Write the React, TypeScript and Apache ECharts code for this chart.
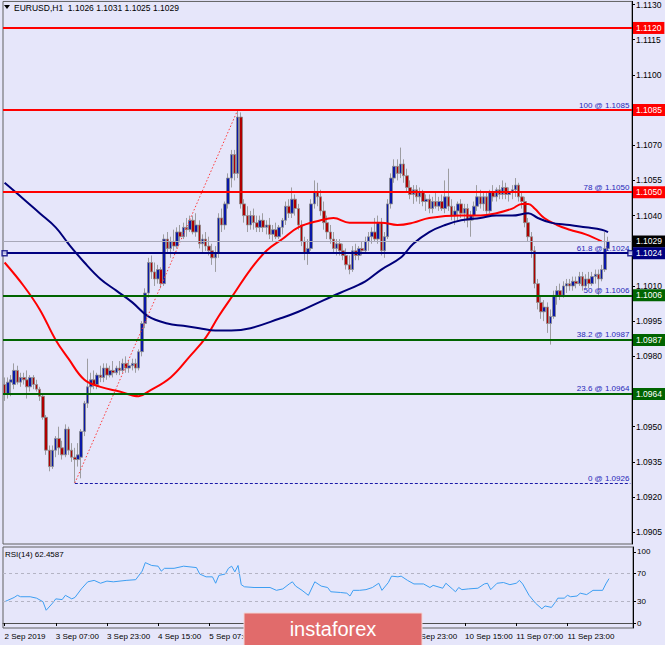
import React, { useEffect, useRef } from "react";
import * as echarts from "echarts";

// ---------- DATA ----------
const timeLabels = [
  "2 Sep 2019", "3 Sep 07:00", "3 Sep 23:00", "4 Sep 15:00", "5 Sep 07:00", "5 Sep 23:00",
  "6 Sep 15:00", "9 Sep 07:00", "9 Sep 23:00", "10 Sep 15:00", "11 Sep 07:00", "11 Sep 23:00",
];
const labelsUnderLogo = ["5 Sep 23:00", "6 Sep 15:00", "9 Sep 07:00"]; // fully covered by the watermark
const barsPerLabel = 16;
const emptySlots = 7; // chart shift on the right

// [open, high, low, close]
const candles: number[][] = [
  [1.0968, 1.0971, 1.0961, 1.0964], [1.0964, 1.0971, 1.0962, 1.0969], [1.0969, 1.0972, 1.0963, 1.0970], [1.0968, 1.0977, 1.0966, 1.0974],
  [1.0974, 1.0976, 1.0968, 1.0969], [1.0969, 1.0973, 1.0967, 1.0971], [1.0971, 1.0973, 1.0968, 1.0970], [1.0970, 1.0974, 1.0962, 1.0967],
  [1.0967, 1.0972, 1.0965, 1.0971], [1.0971, 1.0972, 1.0966, 1.0968], [1.0968, 1.0970, 1.0965, 1.0966], [1.0966, 1.0967, 1.0961, 1.0963],
  [1.0963, 1.0964, 1.0953, 1.0954], [1.0954, 1.0955, 1.0938, 1.0940], [1.0940, 1.0942, 1.0931, 1.0933], [1.0933, 1.0942, 1.0932, 1.0940],
  [1.0940, 1.0946, 1.0937, 1.0945], [1.0945, 1.0950, 1.0938, 1.0941], [1.0941, 1.0944, 1.0936, 1.0938], [1.0938, 1.0951, 1.0937, 1.0949],
  [1.0949, 1.0950, 1.0938, 1.0940], [1.0940, 1.0943, 1.0935, 1.0937], [1.0937, 1.0941, 1.0926, 1.0936], [1.0936, 1.0943, 1.0933, 1.0938],
  [1.0937, 1.0949, 1.0928, 1.0948], [1.0948, 1.0961, 1.0946, 1.0960], [1.0960, 1.0979, 1.0958, 1.0967], [1.0967, 1.0973, 1.0964, 1.0970],
  [1.0970, 1.0974, 1.0966, 1.0968], [1.0968, 1.0973, 1.0966, 1.0972], [1.0972, 1.0976, 1.0969, 1.0971], [1.0971, 1.0977, 1.0969, 1.0975],
  [1.0975, 1.0977, 1.0970, 1.0972], [1.0972, 1.0976, 1.0971, 1.0974], [1.0974, 1.0978, 1.0971, 1.0973], [1.0973, 1.0976, 1.0972, 1.0975],
  [1.0975, 1.0978, 1.0972, 1.0974], [1.0974, 1.0979, 1.0973, 1.0977], [1.0977, 1.0980, 1.0973, 1.0975], [1.0975, 1.0978, 1.0973, 1.0976],
  [1.0976, 1.0979, 1.0974, 1.0977], [1.0977, 1.0979, 1.0973, 1.0975], [1.0975, 1.0983, 1.0974, 1.0982], [1.0982, 1.0995, 1.0980, 1.0994],
  [1.0994, 1.1009, 1.0992, 1.1007], [1.1007, 1.1022, 1.1005, 1.1020], [1.1020, 1.1023, 1.1013, 1.1016], [1.1016, 1.1020, 1.1010, 1.1013],
  [1.1013, 1.1019, 1.1011, 1.1017], [1.1017, 1.1018, 1.1009, 1.1011], [1.1011, 1.1032, 1.1010, 1.1030], [1.1030, 1.1033, 1.1024, 1.1026],
  [1.1026, 1.1031, 1.1022, 1.1029], [1.1029, 1.1034, 1.1025, 1.1027], [1.1027, 1.1035, 1.1026, 1.1033], [1.1033, 1.1036, 1.1029, 1.1031],
  [1.1031, 1.1037, 1.1030, 1.1035], [1.1035, 1.1039, 1.1031, 1.1034], [1.1034, 1.1040, 1.1033, 1.1038], [1.1038, 1.1040, 1.1032, 1.1033],
  [1.1033, 1.1041, 1.1031, 1.1036], [1.1036, 1.1038, 1.1026, 1.1028], [1.1028, 1.1032, 1.1024, 1.1030], [1.1030, 1.1033, 1.1025, 1.1027],
  [1.1027, 1.1031, 1.1023, 1.1025], [1.1025, 1.1028, 1.1019, 1.1022], [1.1022, 1.1027, 1.1016, 1.1024], [1.1024, 1.1041, 1.1022, 1.1039],
  [1.1039, 1.1043, 1.1033, 1.1036], [1.1036, 1.1046, 1.1034, 1.1045], [1.1045, 1.1058, 1.1043, 1.1056], [1.1056, 1.1068, 1.1052, 1.1066],
  [1.1066, 1.1068, 1.1055, 1.1058], [1.1058, 1.1085, 1.1056, 1.1082], [1.1082, 1.1084, 1.1043, 1.1045], [1.1045, 1.1047, 1.1037, 1.1040],
  [1.1040, 1.1044, 1.1033, 1.1036], [1.1036, 1.1042, 1.1034, 1.1040], [1.1040, 1.1043, 1.1034, 1.1037], [1.1037, 1.1040, 1.1033, 1.1035],
  [1.1035, 1.1040, 1.1033, 1.1038], [1.1038, 1.1041, 1.1033, 1.1035], [1.1035, 1.1038, 1.1032, 1.1036], [1.1036, 1.1039, 1.1030, 1.1032],
  [1.1032, 1.1036, 1.1029, 1.1034], [1.1034, 1.1037, 1.1030, 1.1031], [1.1031, 1.1036, 1.1030, 1.1035], [1.1035, 1.1039, 1.1032, 1.1038],
  [1.1038, 1.1046, 1.1036, 1.1044], [1.1044, 1.1047, 1.1039, 1.1041], [1.1041, 1.1052, 1.1039, 1.1047], [1.1047, 1.1049, 1.1040, 1.1043],
  [1.1043, 1.1045, 1.1034, 1.1036], [1.1036, 1.1038, 1.1027, 1.1029], [1.1029, 1.1031, 1.1021, 1.1024], [1.1024, 1.1030, 1.1019, 1.1026],
  [1.1026, 1.1047, 1.1025, 1.1045], [1.1045, 1.1055, 1.1043, 1.1050], [1.1050, 1.1054, 1.1044, 1.1048], [1.1048, 1.1051, 1.1040, 1.1042],
  [1.1042, 1.1046, 1.1034, 1.1037], [1.1037, 1.1040, 1.1030, 1.1033], [1.1033, 1.1036, 1.1028, 1.1030], [1.1030, 1.1033, 1.1024, 1.1026],
  [1.1026, 1.1030, 1.1023, 1.1028], [1.1028, 1.1030, 1.1023, 1.1025], [1.1025, 1.1028, 1.1021, 1.1023], [1.1023, 1.1026, 1.1017, 1.1019],
  [1.1019, 1.1023, 1.1015, 1.1017], [1.1017, 1.1027, 1.1016, 1.1025], [1.1025, 1.1028, 1.1021, 1.1023], [1.1023, 1.1027, 1.1021, 1.1026],
  [1.1026, 1.1029, 1.1023, 1.1025], [1.1025, 1.1031, 1.1024, 1.1029], [1.1029, 1.1033, 1.1025, 1.1031], [1.1031, 1.1035, 1.1028, 1.1033],
  [1.1033, 1.1039, 1.1029, 1.1030], [1.1030, 1.1040, 1.1028, 1.1037], [1.1037, 1.1039, 1.1023, 1.1025], [1.1025, 1.1033, 1.1022, 1.1031],
  [1.1031, 1.1047, 1.1030, 1.1045], [1.1045, 1.1058, 1.1043, 1.1056], [1.1056, 1.1064, 1.1054, 1.1061], [1.1061, 1.1064, 1.1055, 1.1058],
  [1.1058, 1.1069, 1.1056, 1.1062], [1.1062, 1.1064, 1.1054, 1.1057], [1.1057, 1.1060, 1.1050, 1.1052], [1.1052, 1.1055, 1.1047, 1.1049],
  [1.1049, 1.1053, 1.1045, 1.1051], [1.1051, 1.1053, 1.1046, 1.1048], [1.1048, 1.1052, 1.1045, 1.1050], [1.1050, 1.1051, 1.1044, 1.1046],
  [1.1046, 1.1049, 1.1042, 1.1047], [1.1047, 1.1049, 1.1041, 1.1043], [1.1043, 1.1048, 1.1041, 1.1046], [1.1046, 1.1050, 1.1043, 1.1044],
  [1.1044, 1.1048, 1.1042, 1.1046], [1.1046, 1.1049, 1.1042, 1.1043], [1.1043, 1.1055, 1.1041, 1.1048], [1.1048, 1.1060, 1.1042, 1.1044],
  [1.1044, 1.1047, 1.1038, 1.1040], [1.1040, 1.1044, 1.1036, 1.1042], [1.1042, 1.1046, 1.1038, 1.1045], [1.1045, 1.1047, 1.1039, 1.1041],
  [1.1041, 1.1045, 1.1037, 1.1043], [1.1043, 1.1045, 1.1035, 1.1038], [1.1038, 1.1042, 1.1031, 1.1040], [1.1040, 1.1046, 1.1038, 1.1044],
  [1.1044, 1.1053, 1.1042, 1.1048], [1.1048, 1.1051, 1.1043, 1.1045], [1.1045, 1.1050, 1.1042, 1.1048], [1.1048, 1.1050, 1.1040, 1.1042],
  [1.1042, 1.1051, 1.1041, 1.1050], [1.1050, 1.1053, 1.1046, 1.1048], [1.1048, 1.1052, 1.1046, 1.1051], [1.1051, 1.1053, 1.1047, 1.1049],
  [1.1049, 1.1055, 1.1047, 1.1052], [1.1052, 1.1054, 1.1047, 1.1049], [1.1049, 1.1052, 1.1046, 1.1050], [1.1050, 1.1053, 1.1047, 1.1051],
  [1.1051, 1.1056, 1.1048, 1.1053], [1.1053, 1.1054, 1.1046, 1.1048], [1.1048, 1.1050, 1.1043, 1.1046], [1.1046, 1.1048, 1.1035, 1.1037],
  [1.1037, 1.1039, 1.1029, 1.1031], [1.1031, 1.1033, 1.1022, 1.1025], [1.1025, 1.1027, 1.1009, 1.1011], [1.1011, 1.1013, 1.1000, 1.1003],
  [1.1003, 1.1006, 1.0996, 1.0999], [1.0999, 1.1004, 1.0995, 1.1001], [1.1001, 1.1003, 1.0990, 1.0994], [1.0994, 1.1000, 1.0985, 1.0997],
  [1.0997, 1.1008, 1.0996, 1.1006], [1.1006, 1.1010, 1.1002, 1.1008], [1.1008, 1.1011, 1.1004, 1.1006], [1.1006, 1.1012, 1.1005, 1.1010],
  [1.1010, 1.1013, 1.1007, 1.1011], [1.1011, 1.1013, 1.1008, 1.1010], [1.1010, 1.1014, 1.1008, 1.1012], [1.1012, 1.1014, 1.1009, 1.1011],
  [1.1011, 1.1016, 1.1010, 1.1014], [1.1014, 1.1016, 1.1008, 1.1010], [1.1010, 1.1015, 1.1009, 1.1013], [1.1013, 1.1016, 1.1009, 1.1011],
  [1.1011, 1.1016, 1.1010, 1.1014], [1.1014, 1.1017, 1.1011, 1.1015], [1.1015, 1.1017, 1.1006, 1.1013], [1.1013, 1.1019, 1.1012, 1.1017],
  [1.1017, 1.1033, 1.1016, 1.1026], [1.1026, 1.1031, 1.1025, 1.1029],
];

// moving averages read at sample bars: [barIndex, value]
const maRed: number[][] = [
  [0, 1.1020], [6, 1.1010], [11, 1.1000], [16, 1.0987], [20, 1.0979], [25, 1.0970], [30, 1.0967], [36, 1.0965],
  [42, 1.0963], [45, 1.0965], [52, 1.0971], [58, 1.0980], [63, 1.0988], [67, 1.0997], [72, 1.1007], [77, 1.1017],
  [82, 1.1025], [87, 1.1030], [92, 1.1035], [99, 1.1038], [103, 1.1039], [108, 1.1037], [113, 1.1037], [118, 1.1037],
  [123, 1.1036], [128, 1.1037], [133, 1.1039], [143, 1.1040], [149, 1.1040], [154, 1.1041], [159, 1.1043], [162, 1.1045],
  [164, 1.1045], [166, 1.1043], [169, 1.1039], [173, 1.1036], [177, 1.1034], [182, 1.1032], [187, 1.1029],
];
const maNavy: number[][] = [
  [0, 1.1054], [6, 1.1047], [11, 1.1041], [16, 1.1035], [20, 1.1028], [25, 1.1020], [30, 1.1013], [35, 1.1008],
  [40, 1.1003], [45, 1.0997], [51, 1.0994], [56, 1.0993], [61, 1.0992], [66, 1.0991], [71, 1.0991], [77, 1.0992],
  [86, 1.0996], [92, 1.0999], [100, 1.1004], [105, 1.1007], [113, 1.1012], [118, 1.1017], [124, 1.1022], [128, 1.1028],
  [133, 1.1033], [138, 1.1036], [143, 1.1038], [149, 1.1039], [154, 1.1040], [159, 1.1040], [164, 1.1041], [167, 1.1039],
  [171, 1.1037], [177, 1.1036], [182, 1.1035], [187, 1.1034], [189, 1.1033],
];
// RSI(14) read at sample bars: [barIndex, value]
const rsi: number[][] = [
  [0, 30], [1, 32], [3, 36], [4, 39], [5, 37], [8, 37], [10, 35], [12, 30], [13, 18], [15, 28], [16, 34], [18, 33],
  [19, 39], [21, 34], [22, 36], [24, 48], [26, 58], [28, 60], [30, 56], [32, 59], [34, 58], [38, 60], [41, 61], [43, 73],
  [44, 85], [46, 81], [48, 80], [49, 73], [50, 77], [53, 77], [56, 80], [60, 78], [61, 69], [63, 65], [65, 65], [66, 56],
  [67, 67], [69, 69], [70, 77], [71, 80], [72, 72], [73, 81], [74, 54], [75, 51], [78, 50], [83, 50], [85, 46], [87, 48],
  [89, 55], [90, 58], [91, 52], [93, 46], [95, 39], [97, 58], [99, 52], [101, 50], [102, 44], [105, 43], [107, 42], [108, 38],
  [109, 46], [111, 46], [113, 47], [115, 50], [117, 56], [118, 46], [120, 57], [121, 66], [123, 65], [124, 66], [126, 60],
  [128, 55], [131, 55], [133, 50], [134, 53], [137, 49], [138, 56], [140, 48], [141, 44], [142, 50], [143, 47], [145, 48],
  [148, 49], [150, 55], [151, 56], [152, 47], [154, 56], [156, 57], [158, 54], [160, 56], [161, 60], [162, 55], [164, 39],
  [166, 28], [168, 20], [169, 24], [171, 22], [172, 28], [173, 35], [175, 35], [176, 39], [177, 37], [179, 38], [180, 42],
  [182, 40], [183, 43], [184, 46], [187, 46], [188, 55], [189, 62.46],
];

const priceLevels = [
  { value: 1.1120, line: "#ff0000", tag: "#ff0000", width: 2 },
  { value: 1.1085, line: "#ff0000", tag: "#ff0000", width: 2 },
  { value: 1.1050, line: "#ff0000", tag: "#ff0000", width: 2 },
  { value: 1.1029, line: "#a8a8b8", tag: "#000000", width: 1 },
  { value: 1.1024, line: "#000080", tag: "#000080", width: 2 },
  { value: 1.1006, line: "#006400", tag: "#006400", width: 2 },
  { value: 1.0987, line: "#006400", tag: "#006400", width: 2 },
  { value: 1.0964, line: "#006400", tag: "#006400", width: 2 },
];
const fibLevels = [
  { ratio: "100", value: 1.1085 }, { ratio: "78", value: 1.1050 }, { ratio: "61.8", value: 1.1024 },
  { ratio: "50", value: 1.1006 }, { ratio: "38.2", value: 1.0987 }, { ratio: "23.6", value: 1.0964 },
  { ratio: "0", value: 1.0926 },
];
const fibLowBar = 22;
const fibHighBar = 73;
const fibLow = 1.0926;
const fibHigh = 1.1085;
const markedLevel = 1.1024;
const priceTicks = [1.0905, 1.0920, 1.0935, 1.0950, 1.0965, 1.0980, 1.0995, 1.1010, 1.1025, 1.1040, 1.1055, 1.1070, 1.1085, 1.1100, 1.1115, 1.1130];
const priceTickLabels = [1.0905, 1.0920, 1.0935, 1.0950, 1.0980, 1.0995, 1.1010, 1.1040, 1.1055, 1.1070, 1.1100, 1.1115, 1.1130];
const rsiTicks = [0, 30, 70, 100];
const rsiLevels = [30, 70];
const headerText = "EURUSD,H1  1.1026 1.1031 1.1025 1.1029";
const rsiText = "RSI(14) 62.4587";

// ---------- CHART ----------
const BG = "#E6E6FA";
const FONT = "'Liberation Sans', Arial, sans-serif";

export default function App() {
  const ref = useRef<HTMLDivElement>(null);
  useEffect(() => {
    if (!ref.current) return;
    const chart = echarts.init(ref.current, null, { renderer: "svg" });
    const nBars = candles.length;
    const cats = Array.from({ length: nBars + emptySlots }, (_, i) => String(i));
    const lastIdx = cats.length - 1;
    const showTick = (idx: number) => idx % barsPerLabel === 0 && idx / barsPerLabel < timeLabels.length;
    const showLabel = (idx: number) =>
      showTick(idx) && !labelsUnderLogo.includes(timeLabels[idx / barsPerLabel]);

    const option: any = {
      animation: false,
      backgroundColor: BG,
      textStyle: { fontFamily: FONT },
      grid: [
        { left: 3, right: 32, top: 1, height: 543, show: true, borderColor: "#606060", borderWidth: 1, backgroundColor: BG },
        { left: 3, right: 32, top: 547, height: 81, show: true, borderColor: "#606060", borderWidth: 1, backgroundColor: BG },
      ],
      xAxis: [
        {
          type: "category", gridIndex: 0, data: cats, boundaryGap: true,
          axisLine: { show: false }, axisTick: { show: false }, axisLabel: { show: false }, splitLine: { show: false },
        },
        {
          type: "category", gridIndex: 1, data: cats, boundaryGap: true,
          axisLine: { show: true, lineStyle: { color: "#505050" } },
          axisTick: { show: true, alignWithLabel: true, length: 3, interval: (i: number) => showTick(i), lineStyle: { color: "#000" } },
          axisLabel: {
            show: true, interval: (i: number) => showLabel(i), align: "left", margin: 4,
            fontSize: 8, color: "#000", fontFamily: FONT,
            formatter: (_v: string, i: number) => (showLabel(i) ? timeLabels[i / barsPerLabel] : ""),
          },
          splitLine: { show: false },
        },
      ],
      yAxis: [
        {
          type: "value", gridIndex: 0, position: "right", min: 1.0900, max: 1.11313,
          axisLine: { show: true, lineStyle: { color: "#000" } },
          axisTick: { show: true, length: 3, customValues: priceTicks, lineStyle: { color: "#000" } },
          axisLabel: { show: true, customValues: priceTickLabels, margin: 4, fontSize: 8.5, color: "#000", fontFamily: FONT, formatter: (v: number) => v.toFixed(4) },
          splitLine: { show: false },
        },
        {
          type: "value", gridIndex: 1, position: "right", min: -7, max: 107,
          axisLine: { show: true, lineStyle: { color: "#000" } },
          axisTick: { show: true, length: 3, customValues: rsiTicks, lineStyle: { color: "#000" } },
          axisLabel: { show: true, customValues: rsiTicks, margin: 4, fontSize: 8, color: "#000", fontFamily: FONT },
          splitLine: { show: false },
        },
      ],
      series: [
        {
          type: "candlestick", xAxisIndex: 0, yAxisIndex: 0, barWidth: 3, z: 3,
          data: candles.map((c) => [c[0], c[3], c[2], c[1]]),
          itemStyle: { color: "#0a18a8", color0: "#b00000", borderColor: "#8a8a8a", borderColor0: "#8a8a8a", borderWidth: 0.8 },
        },
        {
          type: "line", xAxisIndex: 0, yAxisIndex: 0, data: maRed, smooth: 0.4, symbol: "none", z: 4,
          lineStyle: { color: "#ff0000", width: 2 },
          markLine: {
            silent: true, symbol: "none", animation: false, precision: 5,
            data: fibLevels.map((f) => [
              {
                coord: [fibLowBar, f.value],
                lineStyle: { color: "#1a1aa8", width: 1, type: [3, 2] },
                label: {
                  show: true, position: "insideEndTop", distance: 1, formatter: `${f.ratio} @ ${f.value.toFixed(4)}`,
                  color: "#2626b8", fontSize: 8, fontFamily: FONT,
                },
              },
              { coord: [lastIdx, f.value] },
            ]),
          },
        },
        {
          type: "line", xAxisIndex: 0, yAxisIndex: 0, data: maNavy, smooth: 0.4, symbol: "none", z: 4,
          lineStyle: { color: "#00007a", width: 2 },
          markLine: {
            silent: true, symbol: "none", animation: false, precision: 5,
            data: [[
              { coord: [fibLowBar, fibLow], lineStyle: { color: "#ff3a3a", width: 1, type: [1.5, 2] }, label: { show: false } },
              { coord: [fibHighBar, fibHigh] },
            ]],
          },
        },
        {
          type: "scatter", xAxisIndex: 0, yAxisIndex: 0, symbol: "rect", symbolSize: 5, z: 5,
          data: [[0, markedLevel], [lastIdx, markedLevel]],
          itemStyle: { color: BG, borderColor: "#000080", borderWidth: 1.5 },
          markLine: {
            silent: true, symbol: "none", animation: false, precision: 5,
            data: priceLevels.map((l) => ({
              yAxis: l.value,
              lineStyle: { color: l.line, width: l.width, type: "solid" },
              label: {
                show: true, position: "end", distance: 1, formatter: l.value.toFixed(4),
                backgroundColor: l.tag, color: "#fff", padding: [2, 3, 1, 3], fontSize: 8.5, fontFamily: FONT,
              },
            })),
          },
        },
        {
          type: "line", xAxisIndex: 1, yAxisIndex: 1, data: rsi, symbol: "none",
          lineStyle: { color: "#3d9ef2", width: 1 },
          markLine: {
            silent: true, symbol: "none", animation: false, label: { show: false },
            data: rsiLevels.map((v) => ({ yAxis: v, lineStyle: { color: "#b4b4c4", width: 1, type: [3, 3] } })),
          },
        },
      ],
      graphic: [
        { type: "polygon", shape: { points: [[4, 5], [10, 5], [7, 9]] }, style: { fill: "#000" } },
        { type: "text", left: 14, top: 3, style: { text: headerText, fill: "#000", font: `8.5px ${FONT}` } },
        { type: "text", left: 5, top: 550, style: { text: rsiText, fill: "#000", font: `8px ${FONT}` } },
        {
          type: "rect", shape: { x: 244, y: 613, width: 178, height: 40 },
          style: { fill: "#e16b6b", stroke: "#f3d6d6", lineWidth: 1 }, z: 100,
        },
        {
          type: "text", x: 333, y: 629, z: 101,
          style: { text: "instaforex", fill: "#ffffff", font: `20px ${FONT}`, align: "center", verticalAlign: "middle" },
        },
      ],
    };
    chart.setOption(option);
    return () => chart.dispose();
  }, []);
  return (
    <div
      ref={ref}
      style={{ position: "fixed", left: 0, top: 0, width: 665, height: 645, background: BG }}
    />
  );
}
